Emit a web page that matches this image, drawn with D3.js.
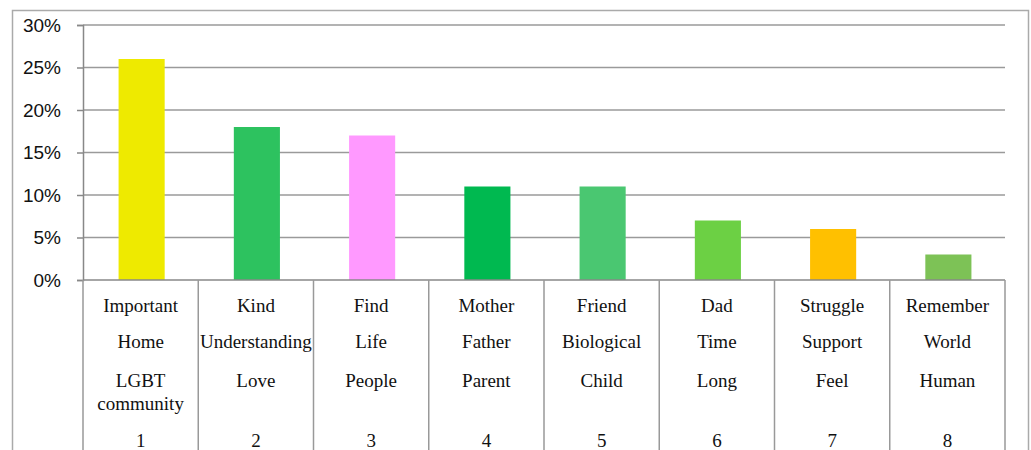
<!DOCTYPE html>
<html>
<head>
<meta charset="utf-8">
<script src="https://cdn.jsdelivr.net/npm/d3@7"></script>
<style>
  body { margin: 0; background: #fff; }
  svg { display: block; }
</style>
</head>
<body>
<div id="chart"></div>
<script>
// category numbers and the three keywords shown under each bar
const categories = ['1', '2', '3', '4', '5', '6', '7', '8']
const words1 = ['Important', 'Kind', 'Find', 'Mother', 'Friend', 'Dad', 'Struggle', 'Remember']
const words2 = ['Home', 'Understanding', 'Life', 'Father', 'Biological', 'Time', 'Support', 'World']
const words3 = ['LGBT community', 'Love', 'People', 'Parent', 'Child', 'Long', 'Feel', 'Human']
const shares = [0.26, 0.18, 0.17, 0.11, 0.11, 0.07, 0.06, 0.03]
const yTicks = [0, 0.05, 0.10, 0.15, 0.20, 0.25, 0.30]
const barColors = ['#EEEA00', '#2DC25F', '#FF99FF', '#00B950', '#4AC771', '#6CD044', '#FFC000', '#7DC256']

let width = 1031, height = 450

let svg = d3.select('#chart')
            .append('svg')
                .attr('width', width)
                .attr('height', height)

// outer frame (bottom edge is off the picture)
svg.append('rect')
    .attr('x', 12.5).attr('y', 10.5)
    .attr('width', 1016).attr('height', 500)
    .attr('fill', 'none')
    .attr('stroke', '#aaa')
    .attr('stroke-width', 1.5)

let x = d3.scaleBand().domain(categories).range([83, 1005])
let y = d3.scaleLinear().domain([0, 0.30]).range([280, 25])

// gridlines
svg.append('g')
    .selectAll('line')
    .data(yTicks.slice(1))
    .enter()
    .append('line')
        .attr('x1', 83).attr('x2', 1005)
        .attr('y1', d => y(d)).attr('y2', d => y(d))
        .attr('stroke', '#9a9a9a')
        .attr('stroke-width', 1.5)

// bars
let bw = x.bandwidth() * 0.4
svg.append('g')
    .selectAll('rect')
    .data(shares)
    .enter()
    .append('rect')
        .attr('x', (d, i) => x(categories[i]) + (x.bandwidth() - bw) / 2 + 1)
        .attr('y', d => y(d))
        .attr('width', bw)
        .attr('height', d => y(0) - y(d))
        .attr('fill', (d, i) => barColors[i])

// y axis
let yAxis = svg.append('g')
    .attr('transform', 'translate(83,0)')
    .call(d3.axisLeft(y).tickValues(yTicks).tickFormat(d3.format('.0%')).tickSize(6).tickPadding(16))
yAxis.select('.domain').attr('stroke', '#888').attr('stroke-width', 1.5)
yAxis.selectAll('.tick line').attr('stroke', '#888').attr('stroke-width', 1.5)
yAxis.selectAll('.tick text')
    .attr('font-family', '"Liberation Sans", Arial, sans-serif')
    .attr('font-size', 19)
    .attr('fill', '#111')

// category table under the axis
let table = svg.append('g')
table.append('line')
    .attr('x1', 83).attr('x2', 1005)
    .attr('y1', y(0)).attr('y2', y(0))
    .attr('stroke', '#888').attr('stroke-width', 1.5)
table.selectAll('.sep')
    .data(categories.concat(['end']))
    .enter()
    .append('line')
        .attr('class', 'sep')
        .attr('x1', (d, i) => i < categories.length ? x(d) : x.range()[1])
        .attr('x2', (d, i) => i < categories.length ? x(d) : x.range()[1])
        .attr('y1', y(0)).attr('y2', 460)
        .attr('stroke', '#999').attr('stroke-width', 1.5)

let rows = [
    {words: words1, baseline: 312},
    {words: words2, baseline: 348},
    {words: words3, baseline: 387},
    {words: categories, baseline: 447}
]
rows.forEach(row => {
    row.words.forEach((w, i) => {
        let t = table.append('text')
            .attr('x', x(categories[i]) + x.bandwidth() / 2)
            .attr('y', row.baseline)
            .attr('text-anchor', 'middle')
            .attr('font-family', '"Liberation Serif", "Times New Roman", serif')
            .attr('font-size', 19)
            .attr('fill', '#111')
            .text(w)
        // wrap words that don't fit in the column
        if (t.node().getComputedTextLength() > x.bandwidth() && w.includes(' ')) {
            let parts = w.split(' ')
            t.text(null)
            parts.forEach((p, k) => {
                t.append('tspan')
                    .attr('x', x(categories[i]) + x.bandwidth() / 2)
                    .attr('dy', k === 0 ? 0 : 23)
                    .text(p)
            })
        }
    })
})
</script>
</body>
</html>
